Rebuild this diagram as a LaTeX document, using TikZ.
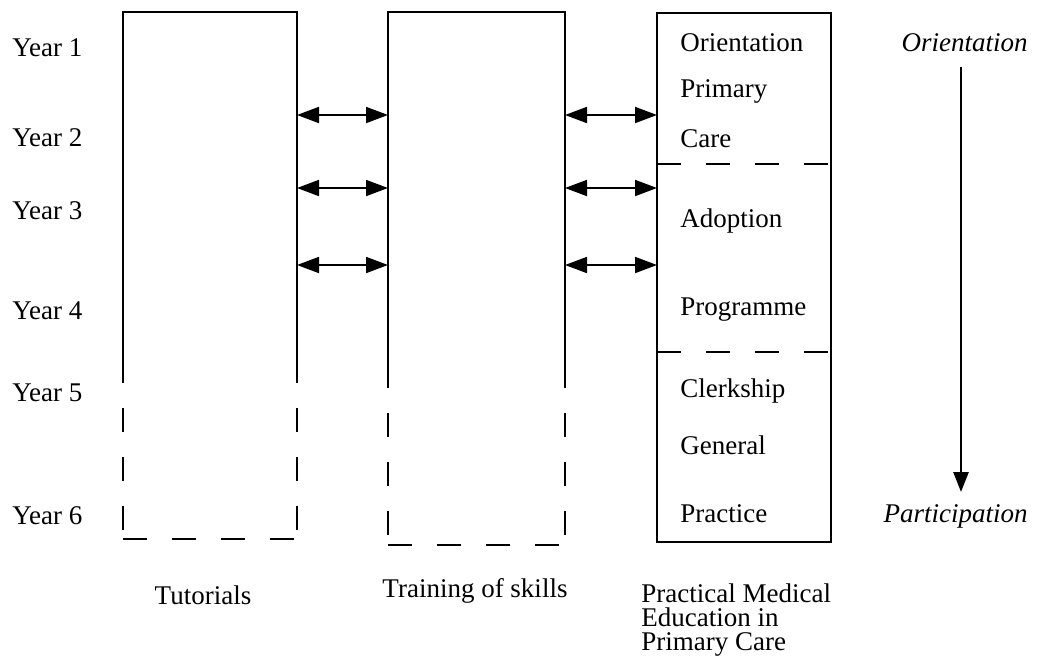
\documentclass[tikz,border=0pt]{standalone}
\usepackage{fontspec}
\setmainfont{Liberation Serif}
\usetikzlibrary{arrows.meta,positioning}

\begin{document}
\begin{tikzpicture}[x=0.5pt,y=-0.5pt,
  lbl/.style={font=\fontsize{13.5}{16}\selectfont,inner sep=0pt},
  yearlbl/.style={lbl,anchor=base west},
  boxlbl/.style={lbl,anchor=base west},
  flowlbl/.style={lbl,anchor=base east,font=\fontsize{13.5}{16}\selectfont\itshape},
  frame/.style={line width=0.9pt},
  brokenframe/.style={line width=0.9pt,dash pattern=on 12pt off 12.5pt},
  link/.style={line width=0.9pt,{Triangle[length=11pt,width=8pt]}-{Triangle[length=11pt,width=8pt]}},
  flow/.style={line width=1.3pt,-{Triangle[length=10pt,width=7.5pt]}}]
\useasboundingbox (0,0) rectangle (1044,666);

% year labels
\node[yearlbl] (y1) at (12,56) {Year 1};
\node[yearlbl] (y2) at (12,146) {Year 2};
\node[yearlbl] (y3) at (12,219) {Year 3};
\node[yearlbl] (y4) at (12,319) {Year 4};
\node[yearlbl] (y5) at (12,401) {Year 5};
\node[yearlbl] (y6) at (12,524) {Year 6};

% tutorials column
\draw[frame] (123,383) -- (123,12) -- (297,12) -- (297,383);
\draw[brokenframe] (123,408) -- (123,539);
\draw[brokenframe] (123,539) -- (297,539);
\draw[brokenframe] (297,408) -- (297,539);
\node[lbl,anchor=base] (tut) at (203,604) {Tutorials};

% skills column
\draw[frame] (388,388) -- (388,12) -- (565,12) -- (565,388);
\draw[brokenframe] (388,413) -- (388,545);
\draw[brokenframe] (388,545) -- (565,545);
\draw[brokenframe] (565,413) -- (565,545);
\node[lbl,anchor=base] (skills) at (475,597) {Training of skills};

% primary care column
\draw[frame] (657,13) rectangle (831,542);
\draw[brokenframe] (657,164) -- (831,164);
\draw[brokenframe] (657,352) -- (831,352);
\node[boxlbl] (orient) at (680,51) {Orientation};
\node[boxlbl] (prim) at (680,97) {Primary};
\node[boxlbl] (care) at (680,147) {Care};
\node[boxlbl] (adopt) at (680,227) {Adoption};
\node[boxlbl] (prog) at (680,315) {Programme};
\node[boxlbl] (clerk) at (680,397) {Clerkship};
\node[boxlbl] (gen) at (680,454) {General};
\node[boxlbl] (pract) at (680,522) {Practice};
\node[lbl,anchor=base west,align=left,font=\fontsize{13.5}{12}\selectfont] (pmepc) at (641,650)
  {Practical Medical\\Education in\\Primary Care};

% links between columns
\coordinate (tutA) at (297,115); \coordinate (sklA) at (388,115);
\coordinate (tutB) at (297,188); \coordinate (sklB) at (388,188);
\coordinate (tutC) at (297,265); \coordinate (sklC) at (388,265);
\coordinate (sklA2) at (565,115); \coordinate (pcA) at (657,115);
\coordinate (sklB2) at (565,188); \coordinate (pcB) at (657,188);
\coordinate (sklC2) at (565,265); \coordinate (pcC) at (657,265);
\draw[link] (tutA) -- (sklA);
\draw[link] (tutB) -- (sklB);
\draw[link] (tutC) -- (sklC);
\draw[link] (sklA2) -- (pcA);
\draw[link] (sklB2) -- (pcB);
\draw[link] (sklC2) -- (pcC);

% orientation -> participation
\node[flowlbl] (orflow) at (1028,51) {Orientation};
\node[flowlbl] (partflow) at (1028,522) {Participation};
\coordinate (flowtop) at (961,67);
\coordinate (flowbot) at (961,492);
\draw[flow] (flowtop) -- (flowbot);
\end{tikzpicture}
\end{document}
